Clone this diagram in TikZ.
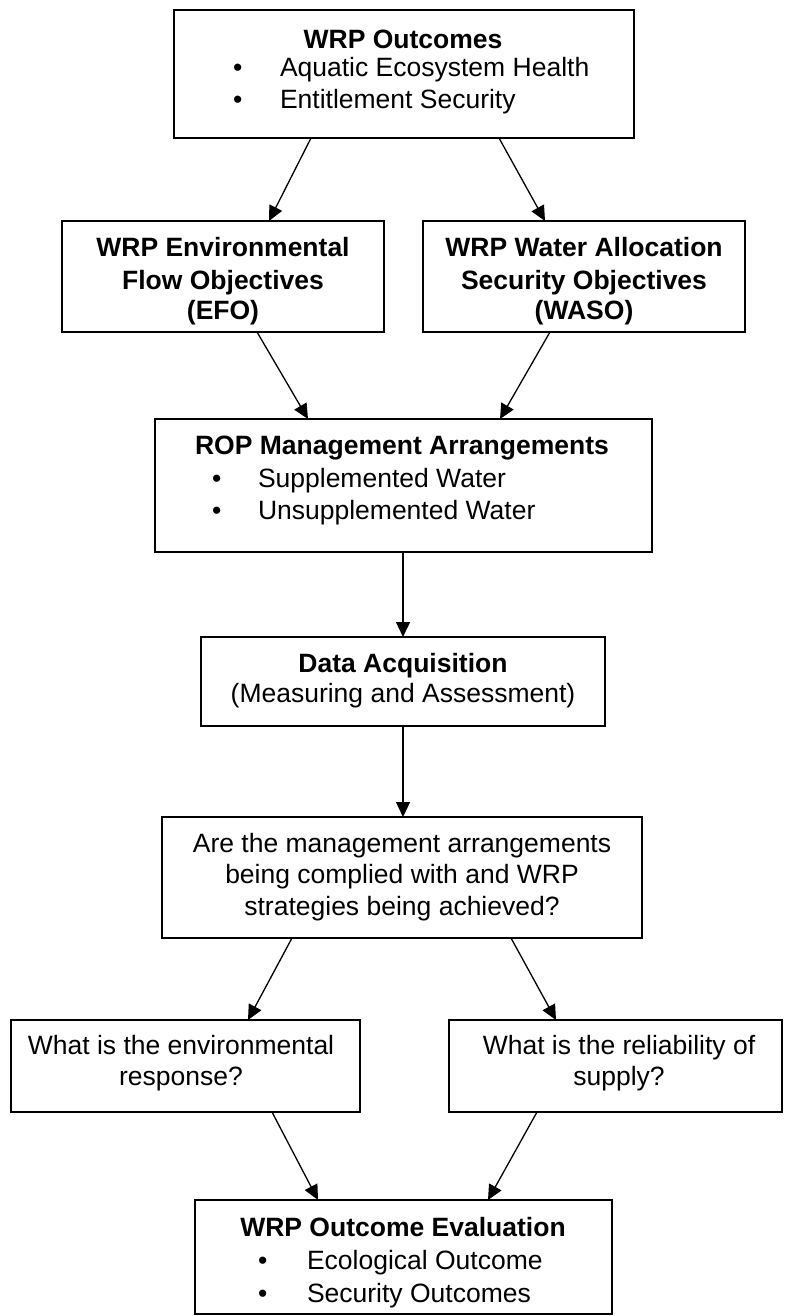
\documentclass[tikz,border=0pt]{standalone}
\usepackage{fontspec}
\setmainfont{Liberation Sans}
\usetikzlibrary{arrows.meta,calc}
\begin{document}
\begin{tikzpicture}[x=1pt,y=-1pt,
  box/.style={draw,line width=1.8pt,inner sep=0pt,outer sep=0pt},
  txt/.style={inner sep=0pt,outer sep=0pt,font=\fontsize{26.5}{30}\selectfont,anchor=base},
  btxt/.style={txt,font=\fontsize{26.5}{30}\selectfont\bfseries},
  ltxt/.style={txt,anchor=base west},
  arr/.style={-{Triangle[length=15pt,width=14pt]},line width=1.3pt}]
\path[use as bounding box] (0,0) rectangle (786,1316);

% boxes
\node[box,minimum width=460pt,minimum height=128pt] (b1) at (404,74) {};
\node[box,minimum width=322pt,minimum height=111pt] (b2) at (223,276.5) {};
\node[box,minimum width=322pt,minimum height=111pt] (b3) at (584,276.5) {};
\node[box,minimum width=497pt,minimum height=133pt] (b4) at (403.5,485.5) {};
\node[box,minimum width=404pt,minimum height=89pt] (b5) at (403,681.5) {};
\node[box,minimum width=480pt,minimum height=121pt] (b6) at (402,877.5) {};
\node[box,minimum width=349pt,minimum height=92pt] (b7) at (185.5,1066) {};
\node[box,minimum width=333pt,minimum height=92pt] (b8) at (615.5,1066) {};
\node[box,minimum width=417pt,minimum height=114pt] (b9) at (403.5,1257) {};

% box 1
\node[btxt] (t1) at (403,49) {WRP Outcomes};
\node[ltxt] (t1b1) at (233,77) {•};
\node[ltxt] (t1l1) at (280,77) {Aquatic Ecosystem Health};
\node[ltxt] (t1b2) at (233,109) {•};
\node[ltxt] (t1l2) at (280,109) {Entitlement Security};

% box 2
\node[btxt] (t2a) at (223,256) {WRP Environmental};
\node[btxt] (t2b) at (223,289) {Flow Objectives};
\node[btxt] (t2c) at (223,319) {(EFO)};

% box 3
\node[btxt] (t3a) at (584,256) {WRP Water Allocation};
\node[btxt] (t3b) at (584,289) {Security Objectives};
\node[btxt] (t3c) at (584,319) {(WASO)};

% box 4
\node[btxt] (t4) at (402,454) {ROP Management Arrangements};
\node[ltxt] (t4b1) at (212,487) {•};
\node[ltxt] (t4l1) at (258,487) {Supplemented Water};
\node[ltxt] (t4b2) at (212,519) {•};
\node[ltxt] (t4l2) at (258,519) {Unsupplemented Water};

% box 5
\node[btxt] (t5a) at (403,672) {Data Acquisition};
\node[txt] (t5b) at (403,702) {(Measuring and Assessment)};

% box 6
\node[txt] (t6a) at (402,852) {Are the management arrangements};
\node[txt] (t6b) at (402,883) {being complied with and WRP};
\node[txt] (t6c) at (402,915) {strategies being achieved?};

% box 7
\node[txt] (t7a) at (181,1054) {What is the environmental};
\node[txt] (t7b) at (181,1085) {response?};

% box 8
\node[txt] (t8a) at (619,1054) {What is the reliability of};
\node[txt] (t8b) at (619,1085) {supply?};

% box 9
\node[btxt] (t9) at (403,1236) {WRP Outcome Evaluation};
\node[ltxt] (t9b1) at (258,1269) {•};
\node[ltxt] (t9l1) at (307,1269) {Ecological Outcome};
\node[ltxt] (t9b2) at (258,1302) {•};
\node[ltxt] (t9l2) at (307,1302) {Security Outcomes};

% arrows
\draw[arr] ($(b1.south west)+(137,0)$) -- ($(b2.north west)+(207,0)$);
\draw[arr] ($(b1.south west)+(325,0)$) -- ($(b3.north west)+(122,0)$);
\draw[arr] ($(b2.south west)+(195,0)$) -- ($(b4.north west)+(153,0)$);
\draw[arr] ($(b3.south west)+(127,0)$) -- ($(b4.north west)+(345,0)$);
\draw[arr] (b5.north |- b4.south) -- (b5.north);
\draw[arr] (b5.south) -- (b5.south |- b6.north);
\draw[arr] ($(b6.south west)+(130,0)$) -- ($(b7.north west)+(237,0)$);
\draw[arr] ($(b6.south west)+(349,0)$) -- ($(b8.north west)+(107,0)$);
\draw[arr] ($(b7.south west)+(261,0)$) -- ($(b9.north west)+(123,0)$);
\draw[arr] ($(b8.south west)+(88,0)$) -- ($(b9.north west)+(293,0)$);
\end{tikzpicture}
\end{document}
